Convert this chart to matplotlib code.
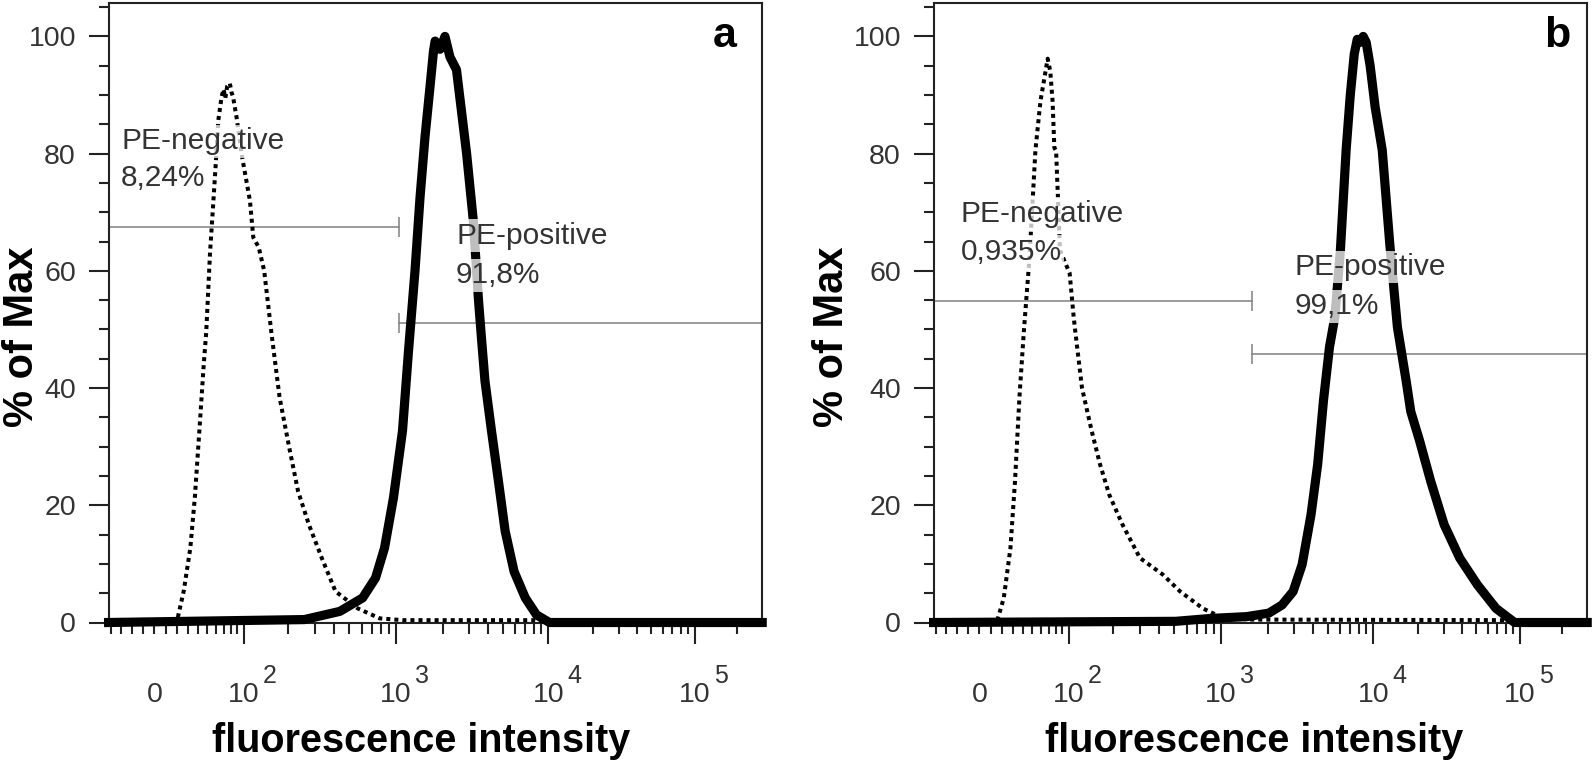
import matplotlib
matplotlib.use('Agg')
import matplotlib.pyplot as plt
import matplotlib.transforms as mtransforms
from matplotlib.ticker import MultipleLocator
import numpy as np

plt.rcParams['font.family'] = 'Liberation Sans'

# ---- data (fluorescence value, % of max) ----
a_pos_x = [-42, 257, 435, 609, 737, 842, 962, 1100, 1200, 1325, 1428, 1538, 1658, 1747, 1790,
           1925, 2075, 2236, 2468, 2875, 3180, 3441, 3610, 3796, 4191, 4659, 5160, 5913, 7020,
           8340, 10190, 300000]
a_pos_y = [0, 0.5, 1.9, 4.2, 7.6, 12.7, 21.3, 32.7, 46, 60, 72.5, 82.8, 91.4, 97.5, 99.2,
           97.8, 100, 96.5, 94.3, 80, 68.6, 55, 48.1, 41.2, 32.7, 24.1, 15.6, 8.7, 4.2,
           1.3, 0, 0]

a_neg_x = [-42, 19.8, 26, 32.4, 36.9, 41.6, 46.3, 49, 53.3, 57.1, 60.4, 63.3, 67.5, 70, 72.5,
           75, 78.7, 81, 83.3, 88.5, 96.5, 111, 117.3, 128, 139.5, 156, 177, 205, 234, 275,
           333, 408, 567, 786, 1100, 8000, 10000]
a_neg_y = [0, 0.2, 5.3, 12.7, 21.3, 32.7, 44.1, 49.5, 63, 71.5, 78.9, 85.7, 89.7, 91, 89.5,
           91.5, 92, 90.5, 89.7, 86.3, 80, 72, 65.7, 64, 60, 49.5, 38.4, 29.8, 22.4, 16.7,
           11, 5.3, 2.4, 0.7, 0.4, 0.4, 0]

b_pos_x = [-42, 510, 863, 1460, 2040, 2491, 2942, 3371, 3857, 4268, 4666, 5108, 5543, 6033,
           6587, 7020, 7462, 7812, 8178, 8561, 8962, 9526, 10283, 11482, 12903, 14526, 16650,
           17880, 20530, 24420, 30150, 38550, 51130, 68660, 92380, 300000]
b_pos_y = [0, 0.2, 0.7, 1.0, 1.6, 3.0, 5.3, 9.9, 18.4, 27, 38, 47, 52.1, 63.5,
           80.6, 90, 97, 99.5, 99, 100, 99, 95, 88, 80.6, 64.6, 50.4, 41.2,
           36, 31, 24.1, 16.7, 11, 6.4, 2.4, 0, 0]

b_neg_x = [-42, 15.4, 21.5, 27.7, 32.1, 36.5, 41.1, 47, 53.8, 59.8, 64.8, 68.9, 72.4, 75.5,
           78, 80.5, 86.3, 101.7, 108.8, 111.5, 124.5, 145, 165, 190, 232, 301, 421, 545,
           763, 984, 1530, 80000, 92000]
b_neg_y = [0, 0.2, 4.2, 12.7, 24.1, 38.4, 49.8, 62, 80.6, 89, 93, 96.2, 94, 89,
           81, 80.5, 63.5, 59.6, 52.1, 49.8, 40, 32.7, 27, 21.8, 16.7, 11, 8.2, 5.3,
           2.4, 1.0, 0.5, 0.4, 0]

# gates: (boundary, level of negative gate, level of positive gate)
a_gate = (1040, 67.5, 51.1)
b_gate = (1580, 54.9, 45.8)

a_labels = ['PE-negative', '8,24%', 'PE-positive', '91,8%']
b_labels = ['PE-negative', '0,935%', 'PE-positive', '99,1%']
# label anchors (x value, baseline %)
a_label_pos = [(-29.5, 80.75), (-29.5, 74.4), (2450, 64.6), (2450, 57.9)]
b_label_pos = [(-16.5, 68.4), (-16.5, 61.9), (2990, 59.3), (2990, 52.6)]

x_major = [100, 1000, 10000, 100000]
x_major_exp = ['2', '3', '4', '5']
x_minor = [-40, -30, -20, -10, 0, 10, 20, 30, 40, 50, 60, 70, 80, 90,
           200, 300, 400, 500, 600, 700, 800, 900,
           2000, 3000, 4000, 5000, 6000, 7000, 8000, 9000,
           20000, 30000, 40000, 50000, 60000, 70000, 80000, 90000, 200000]
y_major = [0, 20, 40, 60, 80, 100]

XMIN, XMAX = -42, 300000
YMAX = 105.7

# biexponential-like display axis
A_LIN = 61.5
CURV = 0.01826


def fwd(x):
    u = np.arcsinh(np.asarray(x, float) / A_LIN) / np.log(10)
    return u - CURV * u ** 2


def inv(p):
    p = np.asarray(p, float)
    u = (1 - np.sqrt(np.maximum(1 - 4 * CURV * p, 0))) / (2 * CURV)
    return A_LIN * np.sinh(u * np.log(10))


W, H = 1592, 764
fig = plt.figure(figsize=(W / 100, H / 100), dpi=100)

txt_col = '#333333'


def draw_panel(left_px, pos_x, pos_y, neg_x, neg_y, gate, labels, label_pos, letter, letter_x):
    ax = fig.add_axes([left_px / W, (H - 622.5) / H, 653.6 / W, 619.5 / H])
    ax.set_xscale('function', functions=(fwd, inv))
    ax.set_xlim(XMIN, XMAX)
    ax.set_ylim(0, YMAX)

    g, yneg, ypos = gate
    ax.plot([XMIN, g], [yneg, yneg], color='#808080', lw=1.1, zorder=2,
            marker='|', markevery=[1], ms=15, mew=1.1)
    ax.plot([g, XMAX], [ypos, ypos], color='#808080', lw=1.1, zorder=2,
            marker='|', markevery=[0], ms=15, mew=1.1)

    ax.plot(neg_x, neg_y, color='black', lw=2.9, linestyle=(0, (1, 1)),
            zorder=3, clip_on=False)
    ax.plot(pos_x, pos_y, color='black', lw=6.6, zorder=4, clip_on=False,
            solid_joinstyle='round')

    for t, (tx, ty) in zip(labels, label_pos):
        ax.text(tx, ty, t, fontsize=21.5, color=txt_col, ha='left', va='baseline', zorder=6,
                bbox=dict(boxstyle='square,pad=0.08', fc='white', ec='none', alpha=0.75))

    ax.text(letter_x, 0.929, letter, transform=ax.transAxes, ha='right', va='baseline',
            fontsize=31, fontweight='bold', color='black')

    # ticks
    ax.set_xticks(x_major)
    ax.set_xticks(x_minor, minor=True)
    ax.tick_params(axis='x', which='both', direction='out', labelbottom=False,
                   width=1.5, color='#222222')
    ax.tick_params(axis='x', which='major', length=15)
    ax.tick_params(axis='x', which='minor', length=8)
    ax.set_yticks(y_major)
    ax.yaxis.set_minor_locator(MultipleLocator(5))
    ax.tick_params(axis='y', which='both', direction='out', width=1.5, color='#222222',
                   labelsize=20.5, labelcolor=txt_col, pad=9)
    ax.tick_params(axis='y', which='major', length=14.5)
    ax.tick_params(axis='y', which='minor', length=7)
    for s in ax.spines.values():
        s.set_linewidth(1.5)
        s.set_color('#222222')

    # x tick labels drawn by hand: '0' and '10' share a baseline, exponent sits high
    base = mtransforms.blended_transform_factory(ax.transData, ax.transAxes)
    ax.text(0, -0.128, '0', transform=base, ha='center', va='baseline',
            fontsize=20.5, color=txt_col)
    sup = mtransforms.offset_copy(base, fig=fig, x=19, y=19, units='dots')
    for v, e in zip(x_major, x_major_exp):
        ax.text(v, -0.128, '10', transform=base, ha='center', va='baseline',
                fontsize=20.5, color=txt_col)
        ax.text(v, -0.128, e, transform=sup, ha='left', va='baseline',
                fontsize=18, color=txt_col)
    return ax


ax_a = draw_panel(108.6, a_pos_x, a_pos_y, a_neg_x, a_neg_y, a_gate,
                  a_labels, a_label_pos, 'a', 0.961)
ax_b = draw_panel(933.6, b_pos_x, b_pos_y, b_neg_x, b_neg_y, b_gate,
                  b_labels, b_label_pos, 'b', 0.974)

for xc in (421, 1254):
    fig.text(xc / W, (H - 752) / H, 'fluorescence intensity', ha='center', va='baseline',
             fontsize=28.5, fontweight='bold', color='black')
for xc in (22, 831.5):
    fig.text(xc / W, (H - 337) / H, '% of Max', rotation=90, ha='center', va='center',
             fontsize=30, fontweight='bold', color='black')

fig.savefig('out.png', dpi=100)
